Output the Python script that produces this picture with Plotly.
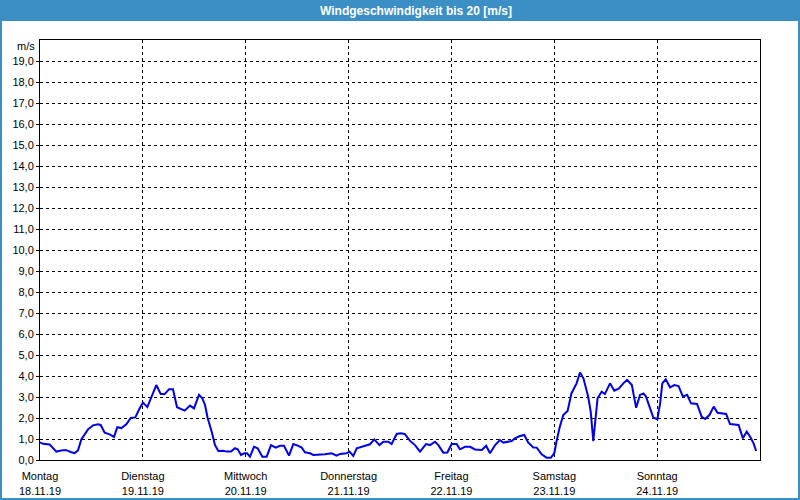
import plotly.graph_objects as go

# Hours since Monday 18.11.19 00:00
hours = [0, 0.7, 2.26, 3.81, 5.37, 6.14, 7.31, 8.09, 8.87, 9.64, 11.2, 12.37, 13.53, 14.16,
         15.09, 16.26, 17.27, 18.04, 18.98, 20.14, 21.16, 22.24, 23.26, 24.03, 25.04, 25.98,
         27.14, 28.16, 29.09, 30.1, 31.03, 31.97, 32.98, 33.76, 35.0, 35.93, 37.1, 37.88, 38.5,
         39.12, 40.06, 40.83, 41.61, 42.78, 43.56, 44.57, 45.5, 46.12, 46.9, 47.68, 48.3, 49.0,
         49.93, 50.79, 51.88, 52.89, 53.9, 54.99, 56.0, 56.93, 58.1, 59.11, 60.28, 61.06, 61.83,
         63.0, 63.78, 64.94, 66.5, 68.06, 69.2, 70.0, 71.55, 72.2, 73.1, 73.9, 75.05, 75.8, 77.0,
         78.0, 79.2, 80.1, 81.28, 82.05, 83.22, 84.1, 85.1, 86.3, 87.5, 88.67, 90.07, 91.0, 92.17,
         92.95, 94.1, 95.05, 96.05, 97.2, 97.99, 99.17, 100.33, 101.5, 103.1, 104.1, 105.0, 106.2,
         107.3, 108.1, 108.9, 110.05, 110.8, 112.0, 113.0, 113.9, 115.1, 115.9, 117.05, 118.2,
         119.2, 120.0, 120.5, 121.3, 122.1, 123.1, 124.0, 125.2, 126.0, 126.8, 127.9, 128.5,
         129.1, 129.7, 130.1, 131.05, 131.8, 133.0, 134.0, 135.1, 136.1, 137.0, 138.1, 138.6,
         139.1, 140.0, 140.8, 141.4, 142.3, 143.1, 144.05, 144.7, 145.2, 146.0, 147.0, 148.0,
         149.0, 150.0, 151.0, 151.9, 153.3, 154.4, 155.2, 156.2, 157.2, 158.1, 160.1, 161.0,
         163.0, 164.0, 164.9, 165.7, 166.5, 167.1]
wind = [0.84, 0.77, 0.74, 0.40, 0.47, 0.47, 0.37, 0.33, 0.46, 0.98, 1.46, 1.65, 1.70, 1.67,
        1.30, 1.22, 1.10, 1.56, 1.52, 1.70, 2.00, 2.03, 2.46, 2.73, 2.52, 2.98,
        3.57, 3.14, 3.14, 3.37, 3.37, 2.51, 2.43, 2.35, 2.59, 2.46, 3.10, 2.94, 2.62,
        2.00, 1.35, 0.71, 0.43, 0.44, 0.40, 0.40, 0.56, 0.51, 0.24, 0.32, 0.32, 0.16,
        0.63, 0.56, 0.16, 0.16, 0.71, 0.59, 0.68, 0.68, 0.21, 0.76, 0.67, 0.59, 0.37,
        0.32, 0.24, 0.24, 0.27, 0.32, 0.21, 0.29, 0.32, 0.40, 0.19, 0.56, 0.63, 0.71, 0.75,
        0.98, 0.71, 0.87, 0.87, 0.76, 1.24, 1.27, 1.24, 0.92, 0.71, 0.40, 0.76, 0.71, 0.87,
        0.71, 0.35, 0.36, 0.76, 0.76, 0.51, 0.63, 0.63, 0.50, 0.48, 0.68, 0.32, 0.71,
        0.95, 0.83, 0.87, 0.90, 1.03, 1.14, 1.19, 0.84, 0.60, 0.59, 0.27, 0.11,
        0.11, 0.32, 0.87, 1.59, 2.14, 2.33, 3.17, 3.65, 4.17, 3.89, 3.02, 2.30,
        0.90, 2.30, 2.94, 3.25, 3.14, 3.65, 3.30, 3.41, 3.65, 3.81, 3.57, 3.02,
        2.49, 3.10, 3.17, 3.02, 2.54, 2.02, 1.94, 2.70, 3.65, 3.84, 3.46, 3.57,
        3.52, 3.02, 3.10, 2.70, 2.67, 2.06, 1.95, 2.14, 2.54, 2.25, 2.19, 1.71,
        1.67, 1.03, 1.35, 1.11, 0.79, 0.43]

day_names = ["Montag", "Dienstag", "Mittwoch", "Donnerstag", "Freitag", "Samstag", "Sonntag"]
day_dates = ["18.11.19", "19.11.19", "20.11.19", "21.11.19", "22.11.19", "23.11.19", "24.11.19"]
day_hours = [0, 24, 48, 72, 96, 120, 144]
y_ticks = list(range(0, 20))
y_labels = [f"{v},0" for v in y_ticks]

FONT = "Tahoma, Liberation Sans, sans-serif"
BLUE = "#3b8fc4"
W, H = 800, 500
L, R, T, B = 40, 40, 40, 40
PW, PH = W - L - R, H - T - B

def px(x):
    return (x - L) / PW

def py(y):
    return (H - B - y) / PH

fig = go.Figure()
fig.add_trace(go.Scatter(x=hours, y=wind, mode="lines",
                         line=dict(color="#0000e6", width=2), hoverinfo="skip",
                         showlegend=False))

fig.update_layout(
    width=W, height=H,
    margin=dict(l=L, r=R, t=T, b=B, autoexpand=False),
    paper_bgcolor="#ffffff", plot_bgcolor="#ffffff",
    font=dict(family=FONT, size=11, color="#000000"),
    xaxis=dict(range=[0, 168], tickmode="array", tickvals=day_hours,
               ticktext=[f"{n}<br>{d}" for n, d in zip(day_names, day_dates)],
               showgrid=True, gridcolor="#000000", griddash="3px,3px", gridwidth=1,
               showline=True, linecolor="#000000", linewidth=1, mirror=True,
               ticks="", ticklabelstandoff=6, automargin=False,
               zeroline=False, fixedrange=True),
    yaxis=dict(range=[0, 20], tickmode="array", tickvals=y_ticks, ticktext=y_labels,
               showgrid=True, gridcolor="#000000", griddash="3px,3px", gridwidth=1,
               showline=True, linecolor="#000000", linewidth=1, mirror=True,
               ticks="outside", ticklen=3, tickcolor="#000000", automargin=False,
               zeroline=False, fixedrange=True),
    shapes=[
        dict(type="rect", xref="paper", yref="paper",
             x0=px(0), x1=px(W), y0=py(21), y1=py(0),
             fillcolor=BLUE, line=dict(width=0), layer="above"),
        dict(type="rect", xref="paper", yref="paper",
             x0=px(1), x1=px(W - 1), y0=py(H - 1), y1=py(1),
             fillcolor="rgba(0,0,0,0)", line=dict(color=BLUE, width=2), layer="above"),
    ],
    annotations=[
        dict(text="<b>Windgeschwindigkeit bis 20 [m/s]</b>", xref="paper", yref="paper",
             x=px(416), y=py(10.5), xanchor="center", yanchor="middle", showarrow=False,
             font=dict(family=FONT, size=12, color="#ffffff")),
        dict(text="m/s", xref="paper", yref="paper", x=px(37), y=py(46),
             xanchor="right", yanchor="middle", showarrow=False,
             font=dict(family=FONT, size=11, color="#000000")),
    ],
)

fig.write_html("out.html")
